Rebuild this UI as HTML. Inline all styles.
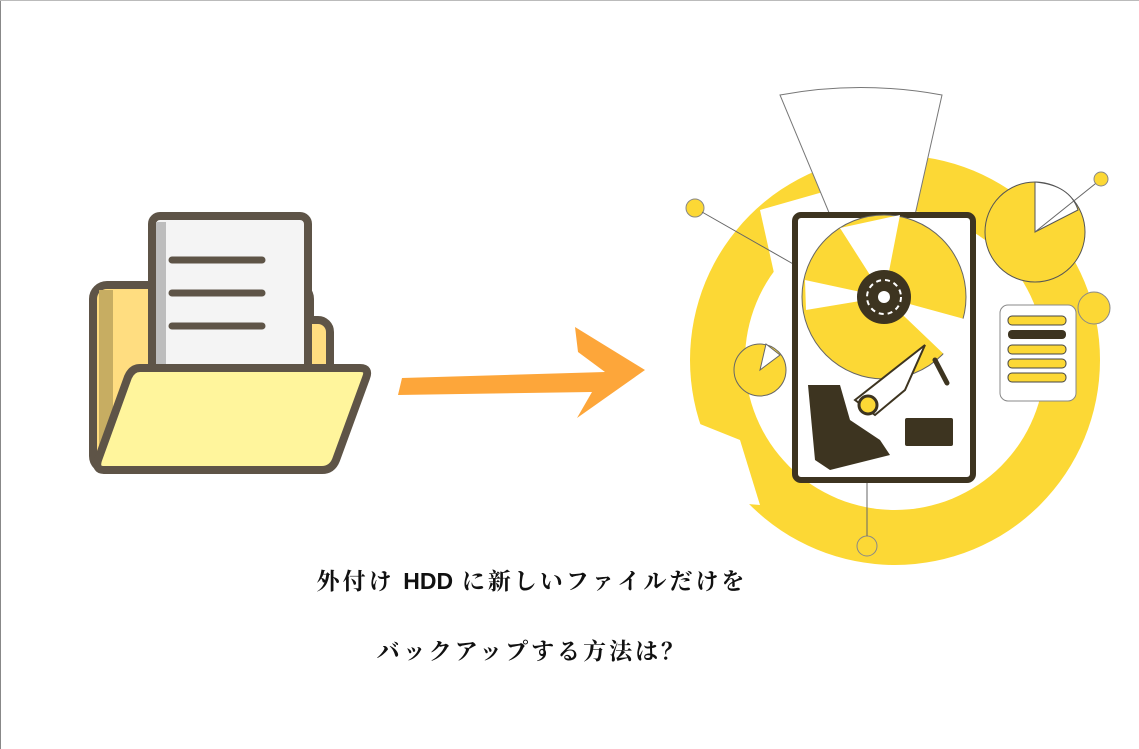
<!DOCTYPE html>
<html><head><meta charset="utf-8"><style>
html,body{margin:0;padding:0;background:#fff}
body{width:1139px;height:749px;position:relative;overflow:hidden}
.t{position:absolute;left:0;width:1064px;text-align:center;font-family:"Liberation Serif","Noto Serif CJK SC",serif;font-size:23px;color:#111;font-weight:bold;letter-spacing:3px}
.t b{font-family:"Liberation Sans",sans-serif;letter-spacing:0}
</style></head><body>
<div style="position:absolute;left:0;top:0;width:1px;height:749px;background:#888"></div>
<div style="position:absolute;left:0;top:0;width:1139px;height:1px;background:#bbb"></div>
<svg width="1139" height="749" style="position:absolute;left:0;top:0">
<rect x="93" y="285" width="217" height="185" rx="14" fill="#ffdd80" stroke="#5e5447" stroke-width="8"/>
<path d="M99 290 h14 v175 h-14z" fill="#c7ad62"/>
<rect x="286" y="320" width="44" height="60" rx="12" fill="#ffdd80" stroke="#5e5447" stroke-width="8"/>
<rect x="152" y="216" width="156" height="160" rx="8" fill="#f4f4f4" stroke="#5e5447" stroke-width="8"/>
<rect x="156" y="222" width="10" height="150" fill="#bdbdbd"/>
<g stroke="#5e5447" stroke-width="7" stroke-linecap="round"><line x1="172" y1="260" x2="262" y2="260"/><line x1="172" y1="293" x2="262" y2="293"/><line x1="172" y1="326" x2="262" y2="326"/></g>
<path d="M140 368 H360 Q370 368 366 378 L336 460 Q332 470 322 470 H104 Q95 470 98 460 L128 377 Q132 368 140 368Z" fill="#fff59c" stroke="#5e5447" stroke-width="8" stroke-linejoin="round"/>
<path d="M402 378 L605 372 L578 352 L575 327 L645 370 L577 418 L592 392 L398 395Z" fill="#fda63a"/>
<circle cx="895" cy="360" r="205" fill="#fcd835"/>
<circle cx="895" cy="360" r="150" fill="#fff"/>
<path d="M760 210 L830 190 L850 250 L780 300Z" fill="#fff"/>
<path d="M690 420 L740 440 L760 505 L700 500Z" fill="#fff"/>
<path d="M780 95 Q860 80 942 95 L915 215 L830 215Z" fill="#fff" stroke="#777" stroke-width="1"/>
<circle cx="1035" cy="232" r="50" fill="#fcd835" stroke="#555" stroke-width="1"/>
<path d="M1035 232 L1035 182 Q1070 185 1078 210Z" fill="#fff" stroke="#555"/>
<line x1="1035" y1="232" x2="1100" y2="180" stroke="#666"/>
<circle cx="1101" cy="179" r="7" fill="#fcd835" stroke="#888"/>
<circle cx="695" cy="208" r="9" fill="#fcd835" stroke="#888"/>
<line x1="702" y1="212" x2="795" y2="265" stroke="#666"/>
<circle cx="1094" cy="308" r="16" fill="#fcd835" stroke="#888"/>
<circle cx="760" cy="370" r="26" fill="#fcd835" stroke="#666"/>
<path d="M760 370 L766 344 L780 355Z" fill="#fff" stroke="#666"/>
<circle cx="867" cy="546" r="10" fill="#fcd835" stroke="#888"/>
<line x1="867" y1="480" x2="867" y2="536" stroke="#666"/>
<rect x="1000" y="305" width="76" height="96" rx="8" fill="#fff" stroke="#888"/>
<g fill="#fcd835" stroke="#444" stroke-width="1">
<rect x="1008" y="316" width="58" height="9" rx="4"/>
<rect x="1008" y="345" width="58" height="9" rx="4"/><rect x="1008" y="359" width="58" height="9" rx="4"/><rect x="1008" y="373" width="58" height="9" rx="4"/></g>
<rect x="1008" y="330" width="58" height="9" rx="4" fill="#3d3420"/>
<rect x="795" y="215" width="178" height="265" rx="6" fill="#fff" stroke="#3d3420" stroke-width="6"/>
<circle cx="884" cy="297" r="82" fill="#fcd835" stroke="#666"/>
<path d="M884 297 L840 228 L900 215Z M884 297 L968 320 L950 360Z M884 297 L805 280 L806 310Z" fill="#fff"/>
<circle cx="884" cy="297" r="27" fill="#3d3420"/>
<circle cx="884" cy="297" r="17" fill="none" stroke="#fff" stroke-width="2" stroke-dasharray="5 4"/>
<circle cx="884" cy="297" r="6" fill="#fff"/>
<path d="M808 385 L840 385 L850 420 L880 440 L890 455 L830 470 L815 460Z" fill="#3d3420"/>
<path d="M855 400 L925 345 L905 390 L875 415Z" fill="#fff" stroke="#3d3420" stroke-width="2"/>
<circle cx="868" cy="405" r="9" fill="#fcd835" stroke="#3d3420" stroke-width="3"/>
<rect x="905" y="418" width="48" height="28" rx="2" fill="#3d3420"/>
<line x1="935" y1="360" x2="947" y2="383" stroke="#3d3420" stroke-width="5" stroke-linecap="round"/>
</svg>
<div class="t" style="top:563px">外付け <b>HDD</b> に新しいファイルだけを</div>
<div class="t" style="top:633px">バックアップする方法は？</div>
</body></html>
